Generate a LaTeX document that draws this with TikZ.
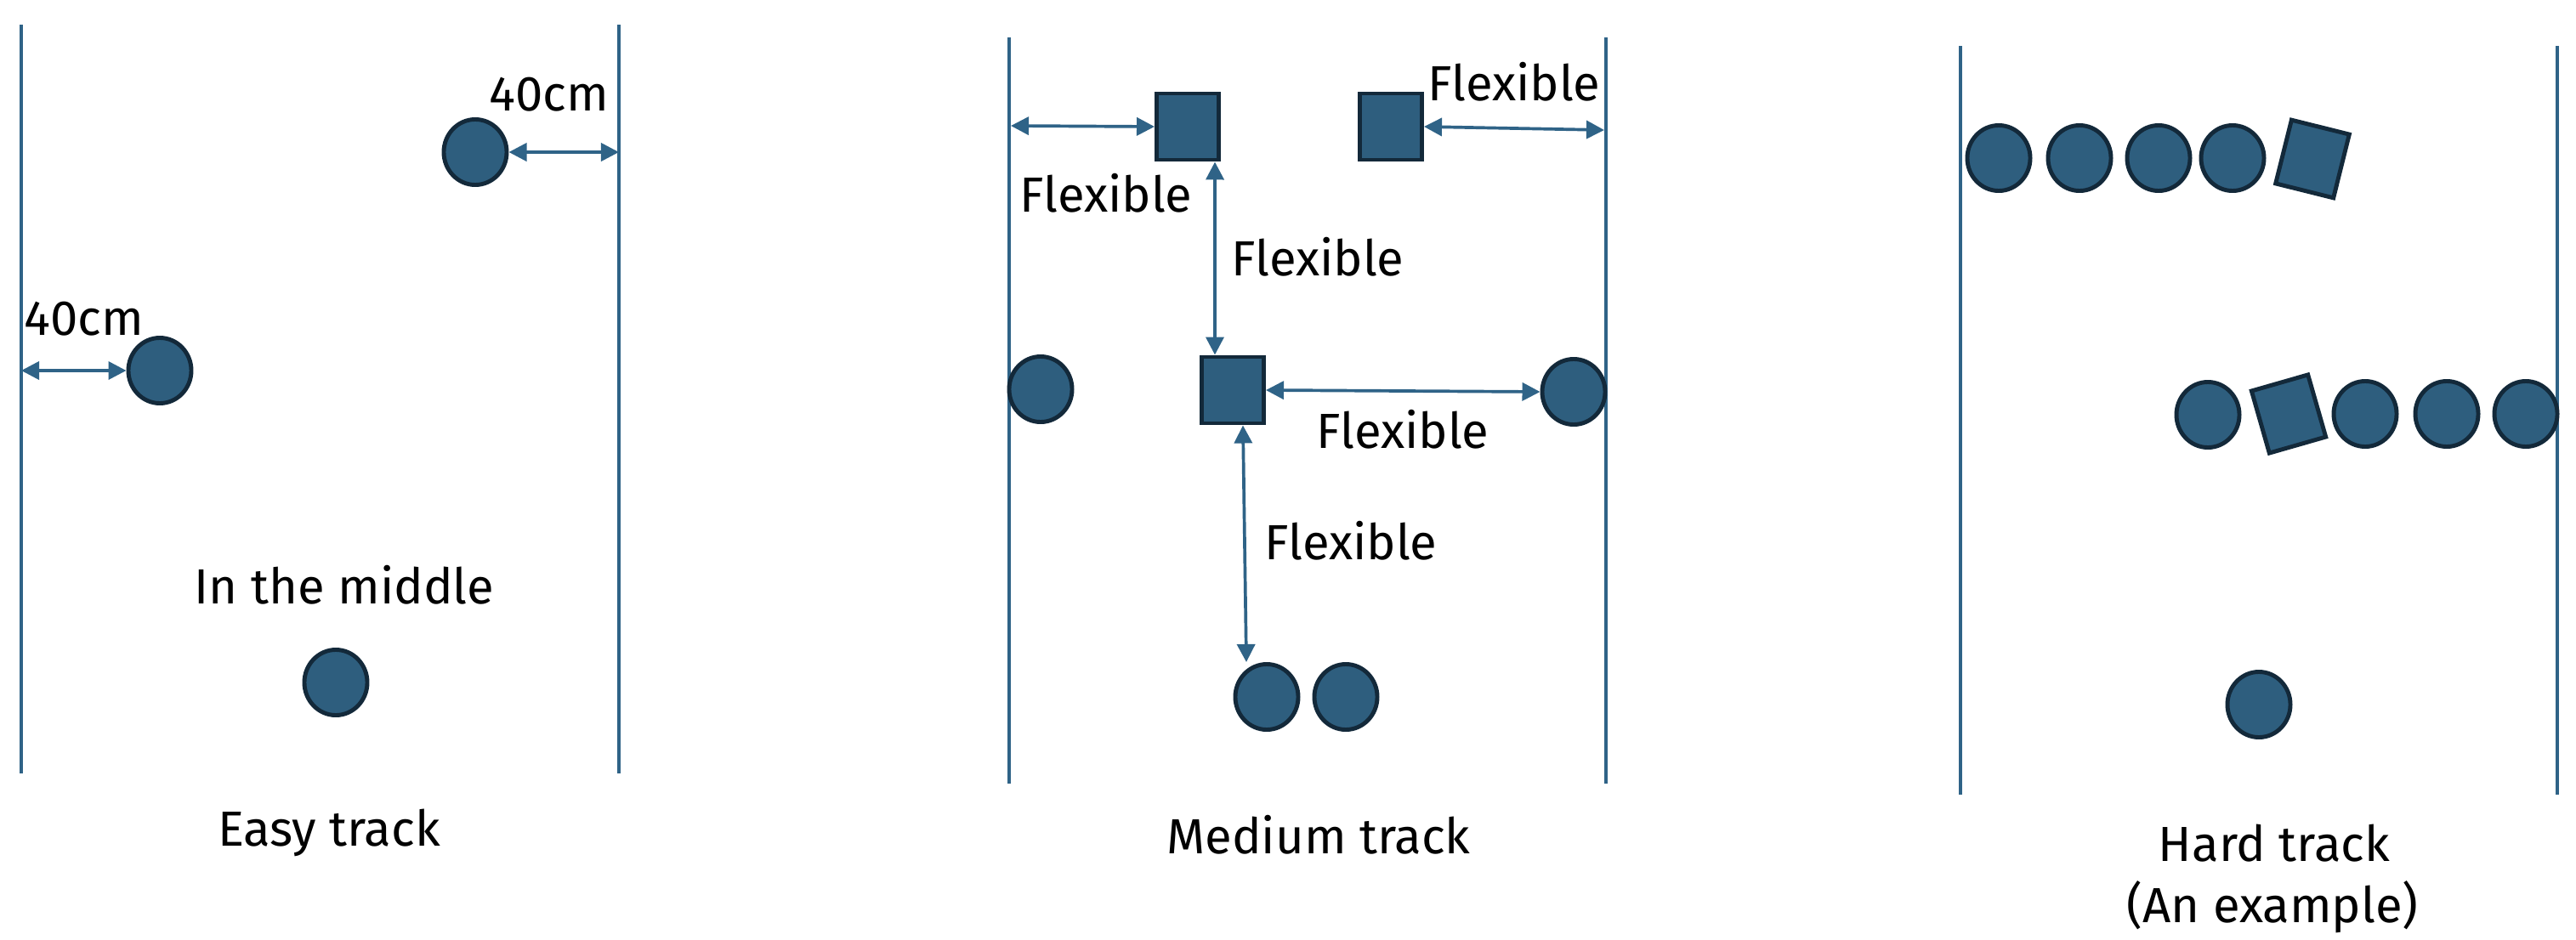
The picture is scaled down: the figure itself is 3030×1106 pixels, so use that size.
\documentclass[tikz,border=0pt]{standalone}
\usepackage{fontspec}
\setmainfont{Fira Sans}
\usetikzlibrary{shapes.geometric, arrows.meta, positioning, calc}
\definecolor{ballfill}{HTML}{2E5E7E}
\definecolor{balledge}{HTML}{13293A}
\definecolor{trackblue}{HTML}{2F6387}

\begin{document}
\begin{tikzpicture}[x=0.01cm, y=-0.01cm, font=\fontsize{16.5pt}{19pt}\selectfont,
    ball/.style={ellipse, draw=balledge, fill=ballfill, line width=1.4pt, minimum width=0.74cm, minimum height=0.77cm, inner sep=0pt},
    box/.style={rectangle, draw=balledge, fill=ballfill, line width=1.4pt, minimum width=0.73cm, minimum height=0.78cm, inner sep=0pt},
    track/.style={draw=trackblue, line width=1.15pt},
    arrow/.style={{Triangle[length=2.1mm,width=2.1mm]}-{Triangle[length=2.1mm,width=2.1mm]}, draw=trackblue, line width=1.05pt},
    lbl/.style={anchor=base, inner sep=0pt}]
    \useasboundingbox (0,0) rectangle (3030,1106);

    % easy track
    \draw[track] (25,29) -- (25,910);
    \draw[track] (728,29) -- (728,910);
    \coordinate (eR) at (728,179);
    \coordinate (eL) at (25,436);
    \node[ball] (e1) at (559,179) {};
    \node[ball] (e2) at (188,436) {};
    \node[ball] (e3) at (395,803) {};
    \draw[arrow] (e1.east) -- (eR);
    \draw[arrow] (eL) -- (e2.west);
    \node[lbl] (e1lbl) at (646,130) {40cm};
    \node[lbl] (e2lbl) at (99,394) {40cm};
    \node[lbl] (e3lbl) at (405,710) {In the middle};
    \node[lbl] (easy) at (387,995) {Easy track};

    % medium track
    \draw[track] (1187,44) -- (1187,922);
    \draw[track] (1889,44) -- (1889,922);
    \coordinate (mL) at (1189,148);
    \coordinate (mR) at (1887,153);
    \node[box] (m1) at (1397,149) {};
    \node[box] (m2) at (1636,149) {};
    \node[ball] (m3) at (1224,458) {};
    \node[box] (m4) at (1450,459) {};
    \node[ball] (m5) at (1851,461) {};
    \node[ball] (m6) at (1490,820) {};
    \node[ball] (m7) at (1583,820) {};
    \draw[arrow] (mL) -- (m1.west);
    \draw[arrow] (m2.east) -- (mR);
    \draw[arrow] ([xshift=0.32cm]m1.south) -- ([xshift=-0.21cm]m4.north);
    \draw[arrow] (m4.east) -- (m5.west);
    \draw[arrow] ([xshift=0.12cm]m4.south) -- ([xshift=-0.24cm]m6.north);
    \node[lbl] (m1lbl) at (1301,249) {Flexible};
    \node[lbl] (m2lbl) at (1781,118) {Flexible};
    \node[lbl] (m3lbl) at (1550,324) {Flexible};
    \node[lbl] (m4lbl) at (1650,527) {Flexible};
    \node[lbl] (m5lbl) at (1589,658) {Flexible};
    \node[lbl] (medium) at (1551,1004) {Medium track};

    % hard track
    \draw[track] (2306,54) -- (2306,935);
    \draw[track] (3008,54) -- (3008,935);
    \node[ball] (h1) at (2351,186) {};
    \node[ball] (h2) at (2446,186) {};
    \node[ball] (h3) at (2539,186) {};
    \node[ball] (h4) at (2626,186) {};
    \node[box, rotate=-14, minimum width=0.70cm, minimum height=0.77cm] (h5) at (2720,187) {};
    \node[ball] (h6) at (2597,488) {};
    \node[box, rotate=16, minimum width=0.69cm, minimum height=0.76cm] (h7) at (2692,487) {};
    \node[ball] (h8) at (2782,487) {};
    \node[ball] (h9) at (2878,487) {};
    \node[ball] (h10) at (2971,487) {};
    \node[ball] (h11) at (2657,829) {};
    \node[lbl] (hard) at (2675,1013) {Hard track};
    \node[lbl] (example) at (2673,1085) {(An example)};
\end{tikzpicture}
\end{document}
